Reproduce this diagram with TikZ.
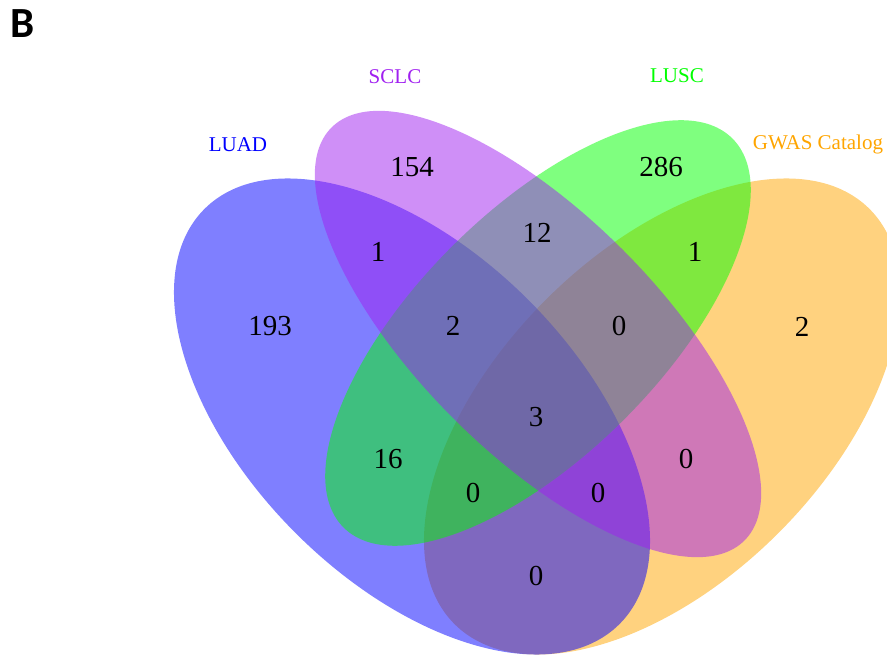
\documentclass[tikz,border=0pt]{standalone}
\usepackage{fontspec}
\setmainfont{Liberation Serif}
\newfontfamily\panelfont{Carlito}

\definecolor{luadcol}{RGB}{0,0,255}
\definecolor{sclccol}{RGB}{160,32,240}
\definecolor{lusccol}{RGB}{0,255,0}
\definecolor{gwascol}{RGB}{255,165,0}

\tikzset{
  setfill/.style={fill=#1, fill opacity=0.5, draw=none},
  count/.style={inner sep=0pt, font=\fontsize{29}{34}\selectfont},
  setname/.style={inner sep=0pt, anchor=base, text=#1, font=\fontsize{21}{25}\selectfont},
}

\begin{document}
\begin{tikzpicture}[x=1pt, y=1pt]
  \useasboundingbox (0,0) rectangle (887,654);
  \begin{scope}
    \clip (0,0) rectangle (887,654);
    % four sets, drawn back to front
    \fill[setfill=gwascol, rotate around={45:(662,237.5)}]
      (662,237.5) ellipse [x radius=293.5, y radius=164.7];
    \fill[setfill=luadcol, rotate around={-45:(412,237.5)}]
      (412,237.5) ellipse [x radius=293.5, y radius=164.7];
    \fill[setfill=lusccol, rotate around={45:(538,321)}]
      (538,321) ellipse [x radius=275, y radius=122];
    \fill[setfill=sclccol, rotate around={-45:(538,320)}]
      (538,320) ellipse [x radius=292, y radius=119.5];
  \end{scope}

  % panel letter
  \node[inner sep=0pt, font=\panelfont\bfseries\fontsize{43}{48}\selectfont]
    (panel) at (22.5,630) {B};

  % set names
  \node[setname=luadcol] (nLUAD) at (238,502) {LUAD};
  \node[setname=sclccol] (nSCLC) at (395,570) {SCLC};
  \node[setname=lusccol] (nLUSC) at (677,571) {LUSC};
  \node[setname=gwascol] (nGWAS) at (818,504) {GWAS Catalog};

  % region counts
  \node[count] (cSCLC)  at (412,487) {154};
  \node[count] (cLUSC)  at (661,487) {286};
  \node[count] (cLUAD)  at (270,328) {193};
  \node[count] (cGWAS)  at (802,327) {2};
  \node[count] (cLS)    at (378,402) {1};
  \node[count] (cSL)    at (537,421) {12};
  \node[count] (cLG)    at (695,402) {1};
  \node[count] (cLSL)   at (453,328) {2};
  \node[count] (cSLG)   at (619,328) {0};
  \node[count] (cAll)   at (536,237) {3};
  \node[count] (cLL)    at (388,195) {16};
  \node[count] (cSG)    at (686,195) {0};
  \node[count] (cLLG)   at (473,161) {0};
  \node[count] (cLSG)   at (598,161) {0};
  \node[count] (cLADG)  at (536,78)  {0};
\end{tikzpicture}
\end{document}
